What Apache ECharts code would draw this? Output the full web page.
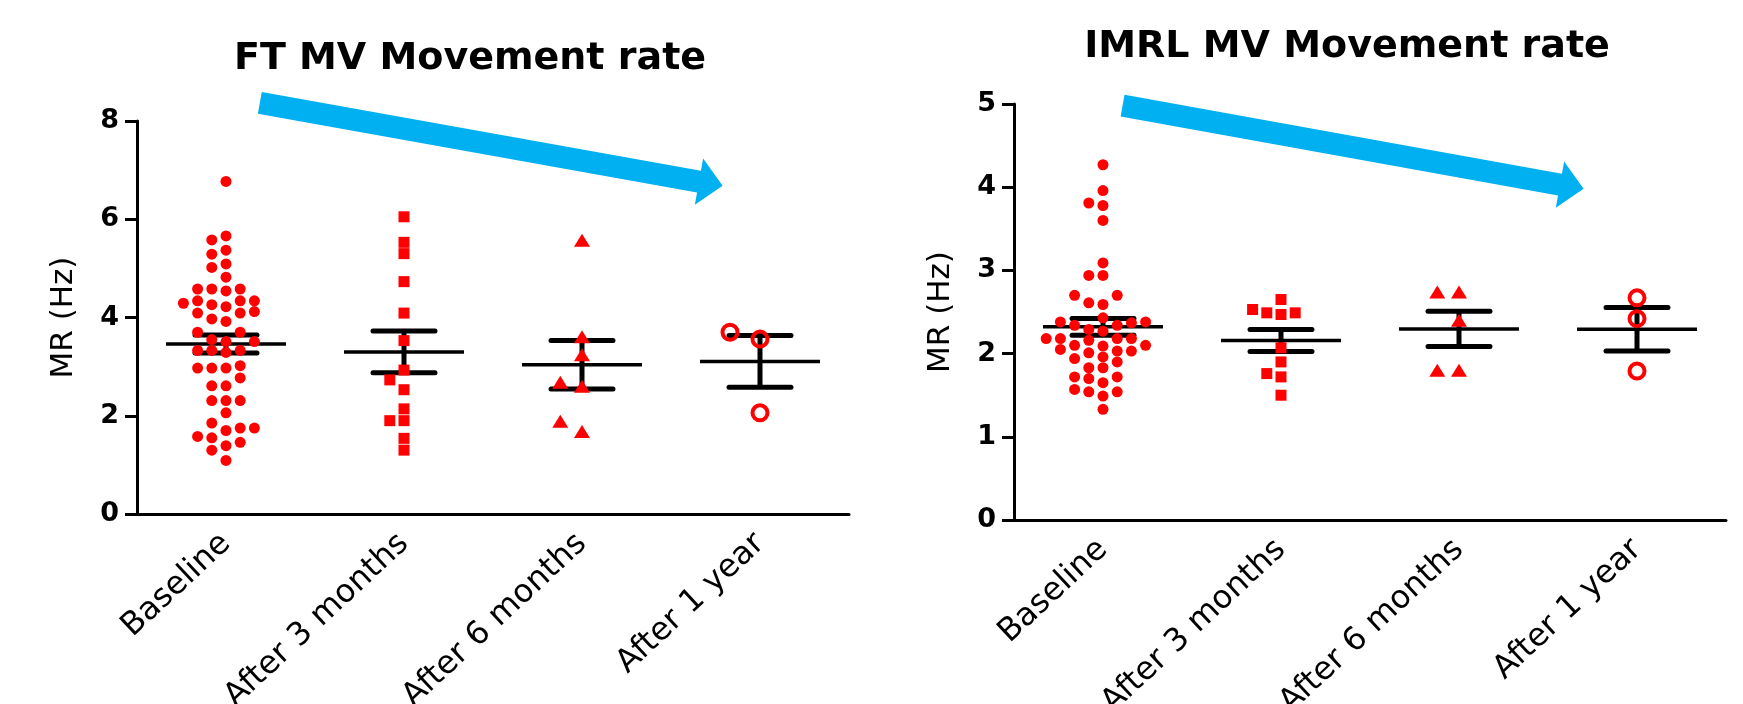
<!DOCTYPE html>
<html>
<head>
<meta charset="utf-8">
<title>MV Movement rate</title>
<script src="https://cdn.jsdelivr.net/npm/echarts@6/dist/echarts.min.js"></script>
<style>
  html, body { margin: 0; padding: 0; background: #fff; }
  #main { width: 1743px; height: 704px; }
</style>
</head>
<body>
<div id="main"></div>
<script>
const categories = ['Baseline', 'After 3 months', 'After 6 months', 'After 1 year'];
const ftYTicks = [0, 2, 4, 6, 8];
const imrlYTicks = [0, 1, 2, 3, 4, 5];

// FT MV movement rate (Hz)
const ftBaseline = [6.77, 5.66, 5.58, 5.37, 5.29, 5.09, 5.02, 4.82, 4.58, 4.54, 4.58, 4.58,
  4.34, 4.34, 4.26, 4.22, 4.29, 4.34, 4.12, 4.09, 4.09, 3.92, 3.97, 3.70, 3.70, 3.51, 3.55,
  3.51, 3.33, 3.29, 3.33, 3.33, 3.02, 2.97, 2.97, 2.97, 2.77, 2.61, 2.61, 2.31, 2.31, 2.31,
  2.06, 1.85, 1.75, 1.70, 1.75, 1.58, 1.55, 1.46, 1.39, 1.30, 1.09];
const ft3Months = [6.05, 5.53, 5.30, 4.73, 4.09, 3.53, 2.93, 2.73, 2.53, 2.14, 1.90, 1.90, 1.54, 1.30];
const ft6Months = [5.57, 3.61, 3.24, 2.68, 2.60, 1.89, 1.68];
const ft1Year = [3.70, 3.56, 2.06];

// IMRL MV movement rate (Hz)
const imrlBaseline = [4.27, 3.96, 3.81, 3.78, 3.60, 3.09, 2.94, 2.94, 2.70, 2.70, 2.61, 2.59,
  2.43, 2.38, 2.37, 2.34, 2.34, 2.38, 2.27, 2.29, 2.18, 2.18, 2.16, 2.18, 2.18, 2.10, 2.09,
  2.10, 2.03, 2.01, 2.03, 2.05, 1.96, 1.94, 1.90, 1.83, 1.83, 1.72, 1.65, 1.70, 1.72, 1.57,
  1.54, 1.49, 1.54, 1.33];
const imrl3Months = [2.65, 2.49, 2.47, 2.49, 2.53, 2.07, 1.90, 1.76, 1.72, 1.50];
const imrl6Months = [2.74, 2.74, 2.40, 1.80, 1.80];
const imrl1Year = [2.67, 2.42, 1.79];

// trend arrows: tail x, tail y, tip x, tip y (data units)
const ftArrow = [0.19, 8.37, 2.79, 6.68];
const imrlArrow = [0.11, 4.98, 2.70, 3.98];

const RED = '#ff0000';
const BLUE = '#00b0f0';
const FONT = 'DejaVu Sans';

// marker look per time point
const groupStyles = [
  { symbol: 'circle', size: 11, step: 14.2, gap: 10.5 },
  { symbol: 'rect', size: 11, step: 14.2, gap: 11 },
  { symbol: 'triangle', size: [16, 13], step: 21.7, gap: 13 },
  { symbol: 'circle', size: 15, step: 30, gap: 17, hollow: true }
];

function meanSem(vals) {
  const n = vals.length;
  const m = vals.reduce((a, b) => a + b, 0) / n;
  const sd = Math.sqrt(vals.reduce((a, v) => a + (v - m) * (v - m), 0) / (n - 1));
  return [m, sd / Math.sqrt(n)];
}

// simple column scatter: put each point in the nearest free column
function swarmColumns(values, pxPerUnit, minDist) {
  const order = values.map((v, i) => i).sort((a, b) => values[a] - values[b]);
  const placed = [];
  const cols = [];
  order.forEach(i => {
    const y = values[i] * pxPerUnit;
    for (let n = 0; ; n++) {
      const k = n === 0 ? 0 : (n % 2 ? -(n + 1) / 2 : n / 2);
      if (!placed.some(p => p.k === k && Math.abs(p.y - y) < minDist)) {
        placed.push({ k, y });
        cols[i] = k;
        break;
      }
    }
  });
  return cols;
}

function renderErrorBar(params, api) {
  const x = api.value(0), m = api.value(1), s = api.value(2);
  const c = api.coord([x, m]);
  const hi = api.coord([x, m + s]);
  const lo = api.coord([x, m - s]);
  const meanHalf = api.size([0.337, 0])[0];
  const capHalf = api.size([0.174, 0])[0];
  return {
    type: 'group',
    children: [
      { type: 'line', shape: { x1: c[0] - meanHalf, y1: c[1], x2: c[0] + meanHalf, y2: c[1] },
        style: { stroke: '#000', lineWidth: 3.5 } },
      { type: 'line', shape: { x1: c[0], y1: hi[1], x2: c[0], y2: lo[1] },
        style: { stroke: '#000', lineWidth: 5 } },
      { type: 'line', shape: { x1: c[0] - capHalf, y1: hi[1], x2: c[0] + capHalf, y2: hi[1] },
        style: { stroke: '#000', lineWidth: 5, lineCap: 'round' } },
      { type: 'line', shape: { x1: c[0] - capHalf, y1: lo[1], x2: c[0] + capHalf, y2: lo[1] },
        style: { stroke: '#000', lineWidth: 5, lineCap: 'round' } }
    ]
  };
}

function renderArrow(params, api) {
  const a = api.coord([api.value(0), api.value(1)]);
  const b = api.coord([api.value(2), api.value(3)]);
  const dx = b[0] - a[0], dy = b[1] - a[1];
  const len = Math.hypot(dx, dy);
  const ux = dx / len, uy = dy / len, nx = -uy, ny = ux;
  const shaft = 11, head = 23.5, headLen = 24;
  const bx = b[0] - ux * headLen, by = b[1] - uy * headLen;
  const pt = (x, y, s) => [x + nx * s, y + ny * s];
  return {
    type: 'polygon',
    shape: {
      points: [pt(a[0], a[1], -shaft), pt(bx, by, -shaft), pt(bx, by, -head), b,
        pt(bx, by, head), pt(bx, by, shaft), pt(a[0], a[1], shaft)]
    },
    style: { fill: BLUE }
  };
}

function categoryAxis(gridIndex) {
  return {
    gridIndex,
    type: 'category',
    data: categories,
    boundaryGap: true,
    axisLine: { onZero: false, lineStyle: { color: '#000', width: 3 } },
    axisTick: { alignWithLabel: true, length: 11, lineStyle: { color: '#000', width: 3 } },
    axisLabel: { interval: 0, rotate: 43, margin: 25, fontSize: 32, color: '#000', fontFamily: FONT },
    splitLine: { show: false }
  };
}

function valueXAxis(gridIndex) {
  return { gridIndex, type: 'value', min: -0.5, max: 3.5, show: false };
}

function yAxis(gridIndex, ticks) {
  return {
    gridIndex,
    type: 'value',
    min: ticks[0],
    max: ticks[ticks.length - 1],
    interval: ticks[1] - ticks[0],
    name: 'MR (Hz)',
    nameLocation: 'middle',
    nameGap: 58,
    nameTextStyle: { fontSize: 31, color: '#000', fontFamily: FONT },
    axisLine: { show: true, onZero: false, lineStyle: { color: '#000', width: 3 } },
    axisTick: { show: true, length: 12, lineStyle: { color: '#000', width: 3 } },
    axisLabel: { fontSize: 27, fontWeight: 'bold', color: '#000', margin: 18, fontFamily: FONT },
    splitLine: { show: false }
  };
}

const chart = echarts.init(document.getElementById('main'));

chart.setOption({
  animation: false,
  backgroundColor: '#fff',
  textStyle: { fontFamily: FONT },
  grid: [
    { left: 137, top: 121, width: 712, height: 393, outerBoundsMode: 'none' },
    { left: 1014, top: 104, width: 712, height: 416, outerBoundsMode: 'none' }
  ],
  xAxis: [categoryAxis(0), valueXAxis(0), categoryAxis(1), valueXAxis(1)],
  yAxis: [yAxis(0, ftYTicks), yAxis(1, imrlYTicks)],
  graphic: [
    { type: 'text', x: 470, y: 59,
      style: { text: 'FT MV Movement rate', fontSize: 38, fontWeight: 'bold', fontFamily: FONT,
        fill: '#000', align: 'center', verticalAlign: 'middle' } },
    { type: 'text', x: 1347, y: 47,
      style: { text: 'IMRL MV Movement rate', fontSize: 38, fontWeight: 'bold', fontFamily: FONT,
        fill: '#000', align: 'center', verticalAlign: 'middle' } }
  ]
});

const panels = [
  { groups: [ftBaseline, ft3Months, ft6Months, ft1Year], xAxisIndex: 1, yAxisIndex: 0, arrow: ftArrow },
  { groups: [imrlBaseline, imrl3Months, imrl6Months, imrl1Year], xAxisIndex: 3, yAxisIndex: 1, arrow: imrlArrow }
];

const series = [];
panels.forEach(p => {
  const pxPerUnit = Math.abs(chart.convertToPixel({ yAxisIndex: p.yAxisIndex }, 1) -
    chart.convertToPixel({ yAxisIndex: p.yAxisIndex }, 0));
  const pxPerGroup = Math.abs(chart.convertToPixel({ xAxisIndex: p.xAxisIndex }, 1) -
    chart.convertToPixel({ xAxisIndex: p.xAxisIndex }, 0));

  series.push({
    type: 'custom',
    xAxisIndex: p.xAxisIndex,
    yAxisIndex: p.yAxisIndex,
    renderItem: renderArrow,
    clip: false,
    z: 1,
    encode: { x: [0, 2], y: [1, 3] },
    data: [p.arrow]
  });

  series.push({
    type: 'custom',
    xAxisIndex: p.xAxisIndex,
    yAxisIndex: p.yAxisIndex,
    renderItem: renderErrorBar,
    z: 2,
    encode: { x: 0, y: 1 },
    data: p.groups.map((vals, i) => [i].concat(meanSem(vals)))
  });

  p.groups.forEach((vals, i) => {
    const st = groupStyles[i];
    const cols = swarmColumns(vals, pxPerUnit, st.gap);
    series.push({
      type: 'scatter',
      xAxisIndex: p.xAxisIndex,
      yAxisIndex: p.yAxisIndex,
      symbol: st.symbol,
      symbolSize: st.size,
      z: 3,
      itemStyle: st.hollow
        ? { color: 'rgba(0,0,0,0)', borderColor: RED, borderWidth: 4, opacity: 1 }
        : { color: RED, opacity: 1 },
      data: vals.map((v, j) => [i + cols[j] * st.step / pxPerGroup, v])
    });
  });
});

chart.setOption({ series });
</script>
</body>
</html>
